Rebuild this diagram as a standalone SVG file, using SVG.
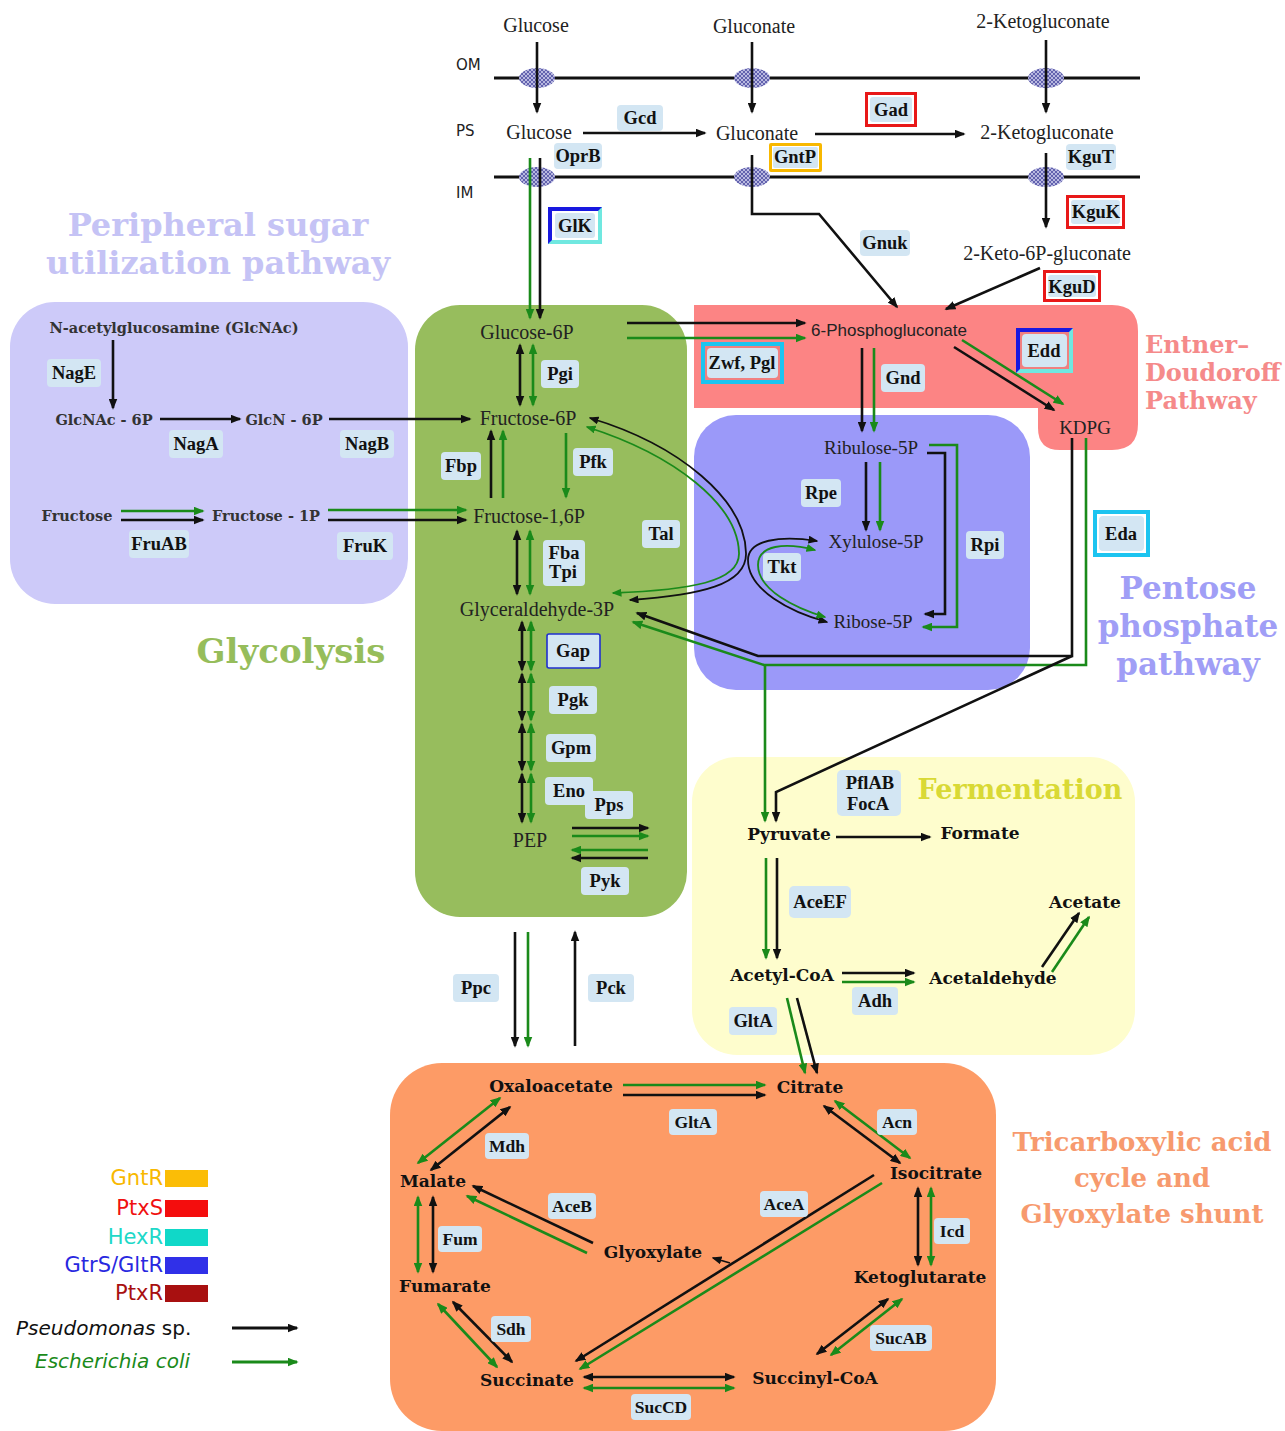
<svg xmlns="http://www.w3.org/2000/svg" width="1285" height="1431" viewBox="0 0 1285 1431">
<style>
.m{font-family:"Liberation Serif",serif;font-size:20px;fill:#222;text-anchor:middle;dominant-baseline:central}
.ms{font-family:"Liberation Serif",serif;font-size:19px;fill:#222;text-anchor:middle;dominant-baseline:central}
.mb{font-family:"DejaVu Serif",serif;font-weight:bold;font-size:17px;fill:#111;text-anchor:middle;dominant-baseline:central}
.pb{font-family:"DejaVu Serif",serif;font-weight:bold;font-size:14.5px;fill:#333;text-anchor:middle;dominant-baseline:central}
.e{font-family:"Liberation Serif",serif;font-weight:bold;font-size:18.5px;fill:#111;text-anchor:middle;dominant-baseline:central}
.et{font-family:"Liberation Serif",serif;font-weight:bold;font-size:17.5px;fill:#111;text-anchor:middle;dominant-baseline:central}
.eb{fill:#d3e6f3}
.lab{font-family:"DejaVu Sans",sans-serif;font-size:15px;fill:#222;dominant-baseline:central}
.t{font-family:"DejaVu Serif",serif;font-weight:bold;text-anchor:middle}
.k{stroke:#111;stroke-width:2.6;fill:none}
.g{stroke:#1a8a1a;stroke-width:2.6;fill:none}
.kt{stroke:#111;stroke-width:1.8;fill:none}
.gt{stroke:#1a8a1a;stroke-width:1.8;fill:none}
.ka{marker-end:url(#ak)}
.kd{marker-end:url(#ak);marker-start:url(#ak)}
.ga{marker-end:url(#ag)}
.gd{marker-end:url(#ag);marker-start:url(#ag)}
.kts{marker-end:url(#sk);marker-start:url(#sk)}
.gts{marker-end:url(#sg);marker-start:url(#sg)}
.leg{font-family:"DejaVu Sans",sans-serif;font-size:21px;text-anchor:end;dominant-baseline:central}
</style>
<defs>
<marker id="ak" viewBox="0 0 10 8" refX="8.5" refY="4" markerWidth="11" markerHeight="9" markerUnits="userSpaceOnUse" orient="auto-start-reverse"><path d="M0,0 L10,4 L0,8 z" fill="#111"/></marker>
<marker id="ag" viewBox="0 0 10 8" refX="8.5" refY="4" markerWidth="11" markerHeight="9" markerUnits="userSpaceOnUse" orient="auto-start-reverse"><path d="M0,0 L10,4 L0,8 z" fill="#1a8a1a"/></marker>
<marker id="sk" viewBox="0 0 10 8" refX="8.5" refY="4" markerWidth="10" markerHeight="8" markerUnits="userSpaceOnUse" orient="auto-start-reverse"><path d="M0,0 L10,4 L0,8 z" fill="#111"/></marker>
<marker id="sg" viewBox="0 0 10 8" refX="8.5" refY="4" markerWidth="10" markerHeight="8" markerUnits="userSpaceOnUse" orient="auto-start-reverse"><path d="M0,0 L10,4 L0,8 z" fill="#1a8a1a"/></marker>
<pattern id="hatch" width="4" height="4" patternUnits="userSpaceOnUse"><rect width="4" height="4" fill="#b8b8e0"/><path d="M0,0 L4,4 M4,0 L0,4" stroke="#5858a8" stroke-width="0.9"/></pattern>
</defs>
<rect width="1285" height="1431" fill="#fff"/>

<g id="regions">
<rect x="10" y="302" width="398" height="302" rx="45" fill="#cdcaf9"/>
<rect x="415" y="305" width="272" height="612" rx="45" fill="#97bd5d"/>
<path d="M694 305 H1112 Q1138 305 1138 331 V424 Q1138 450 1112 450 H1060 Q1038 450 1038 428 V408 H694 Z" fill="#fc8484"/>
<rect x="694" y="415" width="336" height="275" rx="42" fill="#9b99f9"/>
<rect x="692" y="757" width="443" height="298" rx="45" fill="#fefdcd"/>
<rect x="390" y="1063" width="606" height="368" rx="52" fill="#fd9b66"/>
</g>

<g id="titles">
<text class="t" x="218" y="236" font-size="32" fill="#c5c3f5">Peripheral sugar</text>
<text class="t" x="218" y="274" font-size="32" fill="#c5c3f5">utilization pathway</text>
<text class="t" x="291" y="663" font-size="34" fill="#96bd5b">Glycolysis</text>
<text class="t" x="1145" y="353" font-size="24" fill="#f58a8a" style="text-anchor:start">Entner–</text>
<text class="t" x="1145" y="381" font-size="24" fill="#f58a8a" style="text-anchor:start">Doudoroff</text>
<text class="t" x="1145" y="409" font-size="24" fill="#f58a8a" style="text-anchor:start">Pathway</text>
<text class="t" x="1188" y="599" font-size="31" fill="#a09ef6">Pentose</text>
<text class="t" x="1188" y="637" font-size="31" fill="#a09ef6">phosphate</text>
<text class="t" x="1188" y="675" font-size="31" fill="#a09ef6">pathway</text>
<text class="t" x="1020" y="799" font-size="27" fill="#d9d935">Fermentation</text>
<text class="t" x="1142" y="1151" font-size="26" fill="#f79a6e">Tricarboxylic acid</text>
<text class="t" x="1142" y="1187" font-size="26" fill="#f79a6e">cycle and</text>
<text class="t" x="1142" y="1223" font-size="26" fill="#f79a6e">Glyoxylate shunt</text>
</g>

<g id="membranes">
<line x1="494" y1="78" x2="1140" y2="78" stroke="#111" stroke-width="3"/>
<line x1="494" y1="177" x2="1140" y2="177" stroke="#111" stroke-width="3"/>
<ellipse cx="537" cy="78" rx="18" ry="10" fill="url(#hatch)"/>
<ellipse cx="752" cy="78" rx="18" ry="10" fill="url(#hatch)"/>
<ellipse cx="1046" cy="78" rx="18" ry="10" fill="url(#hatch)"/>
<ellipse cx="537" cy="177" rx="18" ry="10" fill="url(#hatch)"/>
<ellipse cx="752" cy="177" rx="18" ry="10" fill="url(#hatch)"/>
<ellipse cx="1046" cy="177" rx="18" ry="10" fill="url(#hatch)"/>
<text class="lab" x="456" y="65">OM</text>
<text class="lab" x="456" y="131">PS</text>
<text class="lab" x="456" y="193">IM</text>
</g>

<g id="connectors">
<line class="k ka" x1="537" y1="42" x2="537" y2="112"/>
<line class="k ka" x1="752" y1="42" x2="752" y2="112"/>
<line class="k ka" x1="1046" y1="40" x2="1046" y2="112"/>
<line class="k ka" x1="583" y1="133" x2="705" y2="133"/>
<line class="k ka" x1="815" y1="134" x2="964" y2="134"/>
<line class="g ga" x1="530" y1="158" x2="530" y2="318"/>
<line class="k ka" x1="540" y1="158" x2="540" y2="318"/>
<polyline class="k ka" points="752,155 752,214 819,214 897,307"/>
<line class="k ka" x1="1046" y1="153" x2="1046" y2="227"/>
<line class="k ka" x1="1040" y1="268" x2="946" y2="309"/>
<line class="k ka" x1="113" y1="340" x2="113" y2="408"/>
<line class="k ka" x1="160" y1="419" x2="240" y2="419"/>
<line class="k ka" x1="329" y1="419" x2="470" y2="419"/>
<line class="g ga" x1="121" y1="511" x2="203" y2="511"/>
<line class="k ka" x1="121" y1="520" x2="203" y2="520"/>
<line class="g ga" x1="328" y1="510" x2="466" y2="510"/>
<line class="k ka" x1="328" y1="520" x2="466" y2="520"/>
<line class="k ka" x1="627" y1="323" x2="805" y2="323"/>
<line class="g ga" x1="627" y1="338" x2="805" y2="338"/>
<line class="k kd" x1="520" y1="345" x2="520" y2="405"/>
<line class="g gd" x1="533" y1="345" x2="533" y2="405"/>
<line class="k ka" x1="491" y1="498" x2="491" y2="431"/>
<line class="g ga" x1="503" y1="498" x2="503" y2="431"/>
<line class="g ga" x1="566" y1="433" x2="566" y2="497"/>
<line class="k kd" x1="517" y1="531" x2="517" y2="594"/>
<line class="g gd" x1="530" y1="531" x2="530" y2="594"/>
<line class="k kd" x1="522" y1="622" x2="522" y2="670"/>
<line class="g gd" x1="531" y1="622" x2="531" y2="670"/>
<line class="k kd" x1="522" y1="674" x2="522" y2="720"/>
<line class="g gd" x1="531" y1="674" x2="531" y2="720"/>
<line class="k kd" x1="522" y1="724" x2="522" y2="770"/>
<line class="g gd" x1="531" y1="724" x2="531" y2="770"/>
<line class="k kd" x1="522" y1="774" x2="522" y2="822"/>
<line class="g gd" x1="531" y1="774" x2="531" y2="822"/>
<line class="k ka" x1="572" y1="828" x2="648" y2="828"/>
<line class="g ga" x1="572" y1="836" x2="648" y2="836"/>
<line class="g ga" x1="648" y1="850" x2="572" y2="850"/>
<line class="k ka" x1="648" y1="858" x2="572" y2="858"/>
<path class="kt kts" d="M590,418 C680,445 745,500 746,553 C747,585 700,595 630,600"/>
<path class="gt gts" d="M587,427 C675,455 738,505 739,553 C740,582 690,590 613,593"/>
<path class="kt kts" d="M817,541 C780,535 748,540 748,560 C748,590 790,612 827,622"/>
<path class="gt gts" d="M815,550 C785,542 758,545 758,565 C758,590 795,608 825,617"/>
<line class="k ka" x1="954" y1="347" x2="1054" y2="410"/>
<line class="g ga" x1="962" y1="340" x2="1063" y2="404"/>
<line class="k ka" x1="862" y1="348" x2="862" y2="431"/>
<line class="g ga" x1="874" y1="348" x2="874" y2="431"/>
<line class="k ka" x1="866" y1="462" x2="866" y2="530"/>
<line class="g ga" x1="880" y1="462" x2="880" y2="530"/>
<polyline class="k ka" points="927,453 945,453 945,614 925,614"/>
<polyline class="g ga" points="929,445 957,445 957,627 923,627"/>
<polyline class="k ka" points="1072,438 1072,656 758,656 637,613"/>
<polyline class="g ga" points="1086,438 1086,665 764,665 633,622"/>
<line class="g ga" x1="765" y1="665" x2="765" y2="821"/>
<polyline class="k ka" points="1072,656 776,792 776,821"/>
<line class="k ka" x1="836" y1="837" x2="930" y2="837"/>
<line class="g ga" x1="766" y1="858" x2="766" y2="958"/>
<line class="k ka" x1="777" y1="858" x2="777" y2="958"/>
<line class="k ka" x1="842" y1="973" x2="914" y2="973"/>
<line class="g ga" x1="842" y1="982" x2="914" y2="982"/>
<line class="k ka" x1="1042" y1="967" x2="1079" y2="913"/>
<line class="g ga" x1="1052" y1="972" x2="1089" y2="917"/>
<line class="g ga" x1="787" y1="998" x2="805" y2="1073"/>
<line class="k ka" x1="797" y1="998" x2="817" y2="1073"/>
<line class="k ka" x1="515" y1="932" x2="515" y2="1046"/>
<line class="g ga" x1="528" y1="932" x2="528" y2="1046"/>
<line class="k ka" x1="575" y1="1046" x2="575" y2="932"/>
<line class="g ga" x1="623" y1="1085" x2="765" y2="1085"/>
<line class="k ka" x1="623" y1="1095" x2="765" y2="1095"/>
<line class="k kd" x1="824" y1="1106" x2="900" y2="1163"/>
<line class="g gd" x1="835" y1="1101" x2="910" y2="1158"/>
<line class="k kd" x1="918" y1="1188" x2="918" y2="1265"/>
<line class="g gd" x1="931" y1="1188" x2="931" y2="1265"/>
<line class="k kd" x1="888" y1="1299" x2="817" y2="1354"/>
<line class="g gd" x1="902" y1="1299" x2="831" y2="1355"/>
<line class="k kd" x1="584" y1="1377" x2="734" y2="1377"/>
<line class="g gd" x1="584" y1="1388" x2="734" y2="1388"/>
<line class="k kd" x1="453" y1="1302" x2="512" y2="1362"/>
<line class="g gd" x1="438" y1="1304" x2="497" y2="1367"/>
<line class="g gd" x1="418" y1="1197" x2="418" y2="1272"/>
<line class="k kd" x1="433" y1="1197" x2="433" y2="1272"/>
<line class="g gd" x1="500" y1="1098" x2="418" y2="1163"/>
<line class="k kd" x1="510" y1="1107" x2="431" y2="1170"/>
<line class="k ka" x1="593" y1="1243" x2="473" y2="1186"/>
<line class="g ga" x1="587" y1="1253" x2="467" y2="1196"/>
<line class="k ka" x1="874" y1="1175" x2="576" y2="1361"/>
<line class="g ga" x1="882" y1="1183" x2="580" y2="1369"/>
<line class="kt" x1="730" y1="1263" x2="713" y2="1258" style="marker-end:url(#sk)"/>
</g>

<g id="metabolites">
<g id="n-glucose-out"><text class="m" x="536" y="25">Glucose</text></g>
<g id="n-gluconate-out"><text class="m" x="754" y="26">Gluconate</text></g>
<g id="n-2kg-out"><text class="m" x="1043" y="21">2-Ketogluconate</text></g>
<g id="n-glucose-ps"><text class="m" x="539" y="132">Glucose</text></g>
<g id="n-gluconate-ps"><text class="m" x="757" y="133">Gluconate</text></g>
<g id="n-2kg-ps"><text class="m" x="1047" y="132">2-Ketogluconate</text></g>
<g id="n-2k6pg"><text class="m" x="1047" y="253">2-Keto-6P-gluconate</text></g>
<g id="n-glcnac"><text class="pb" x="174" y="327">N-acetylglucosamine (GlcNAc)</text></g>
<g id="n-glcnac6p"><text class="pb" x="104" y="419">GlcNAc - 6P</text></g>
<g id="n-glcn6p"><text class="pb" x="284" y="419">GlcN - 6P</text></g>
<g id="n-fructose"><text class="pb" x="77" y="515">Fructose</text></g>
<g id="n-fructose1p"><text class="pb" x="266" y="515">Fructose - 1P</text></g>
<g id="n-g6p"><text class="m" x="527" y="332">Glucose-6P</text></g>
<g id="n-f6p"><text class="m" x="528" y="418">Fructose-6P</text></g>
<g id="n-f16p"><text class="m" x="529" y="516">Fructose-1,6P</text></g>
<g id="n-g3p"><text class="m" x="537" y="609">Glyceraldehyde-3P</text></g>
<g id="n-pep"><text class="m" x="530" y="840">PEP</text></g>
<g id="n-6pg"><text x="889" y="330" style="font-family:'Liberation Sans',sans-serif;font-size:17px;fill:#222;text-anchor:middle;dominant-baseline:central">6-Phosphogluconate</text></g>
<g id="n-kdpg"><text class="ms" x="1085" y="427">KDPG</text></g>
<g id="n-ru5p"><text class="ms" x="871" y="447">Ribulose-5P</text></g>
<g id="n-xu5p"><text class="ms" x="876" y="541">Xylulose-5P</text></g>
<g id="n-r5p"><text class="ms" x="873" y="621">Ribose-5P</text></g>
<g id="n-pyruvate"><text class="mb" x="789" y="834">Pyruvate</text></g>
<g id="n-formate"><text class="mb" x="980" y="833">Formate</text></g>
<g id="n-acetylcoa"><text class="mb" x="782" y="975">Acetyl-CoA</text></g>
<g id="n-acetaldehyde"><text class="mb" x="993" y="978">Acetaldehyde</text></g>
<g id="n-acetate"><text class="mb" x="1085" y="902">Acetate</text></g>
<g id="n-oaa"><text class="mb" x="551" y="1086">Oxaloacetate</text></g>
<g id="n-citrate"><text class="mb" x="810" y="1087">Citrate</text></g>
<g id="n-isocitrate"><text class="mb" x="936" y="1173">Isocitrate</text></g>
<g id="n-akg"><text class="mb" x="920" y="1277">Ketoglutarate</text></g>
<g id="n-succoa"><text class="mb" x="815" y="1378">Succinyl-CoA</text></g>
<g id="n-succinate"><text class="mb" x="527" y="1380">Succinate</text></g>
<g id="n-fumarate"><text class="mb" x="445" y="1286">Fumarate</text></g>
<g id="n-malate"><text class="mb" x="433" y="1181">Malate</text></g>
<g id="n-glyoxylate"><text class="mb" x="653" y="1252">Glyoxylate</text></g>
</g>

<g id="enzymes">
<g id="e-gcd"><rect class="eb" x="617" y="105" width="46" height="26" rx="4"/><text class="e" x="640" y="118">Gcd</text></g>
<g id="e-oprb"><rect class="eb" x="554" y="143" width="48" height="26" rx="4"/><text class="e" x="578" y="156">OprB</text></g>
<g id="e-gad"><rect x="865" y="92" width="52" height="35" fill="#e81818"/><rect x="868" y="95" width="46" height="29" fill="#fff"/><rect class="eb" x="870" y="97" width="42" height="25" rx="3"/><text class="e" x="891" y="110">Gad</text></g>
<g id="e-gntp"><rect x="769" y="143" width="53" height="29" rx="2" fill="#f8b800"/><rect x="772" y="146" width="47" height="23" fill="#fff"/><rect class="eb" x="773" y="147" width="45" height="21" rx="2"/><text class="e" x="795" y="157">GntP</text></g>
<g id="e-kgut"><rect class="eb" x="1066" y="144" width="50" height="26" rx="4"/><text class="e" x="1091" y="157">KguT</text></g>
<g id="e-glk"><rect x="548" y="207" width="54" height="37" fill="#70e8e0"/><polygon points="548,207 602,207 598,211 552,211 552,240 548,244" fill="#1818e0"/><rect x="552" y="211" width="46" height="29" fill="#fff"/><rect class="eb" x="555" y="213" width="40" height="25" rx="3"/><text class="e" x="575" y="226">GlK</text></g>
<g id="e-gnuk"><rect class="eb" x="860" y="230" width="50" height="26" rx="4"/><text class="e" x="885" y="243">Gnuk</text></g>
<g id="e-kguk"><rect x="1066" y="195" width="59" height="34" fill="#e81818"/><rect x="1069" y="198" width="53" height="28" fill="#fff"/><rect class="eb" x="1071" y="200" width="49" height="24" rx="3"/><text class="e" x="1096" y="212">KguK</text></g>
<g id="e-kgud"><rect x="1043" y="270" width="58" height="32" fill="#e81818"/><rect x="1046" y="273" width="52" height="26" fill="#fff"/><rect class="eb" x="1048" y="275" width="48" height="22" rx="3"/><text class="e" x="1072" y="287">KguD</text></g>
<g id="e-zwf"><rect x="701" y="342" width="83" height="42" fill="#1cc4f0"/><rect x="705" y="346" width="75" height="34" fill="#f08080"/><rect class="eb" x="707" y="348" width="71" height="30" rx="4"/><text class="e" x="742" y="363">Zwf, Pgl</text></g>
<g id="e-edd"><rect x="1016" y="328" width="57" height="45" fill="#70e8e0"/><polygon points="1016,328 1073,328 1069,332 1020,332 1020,369 1016,373" fill="#1818e0"/><rect x="1020" y="332" width="49" height="37" fill="#f08080"/><rect class="eb" x="1022" y="334" width="45" height="33" rx="4"/><text class="e" x="1044" y="351">Edd</text></g>
<g id="e-gnd"><rect class="eb" x="881" y="364" width="44" height="28" rx="4"/><text class="e" x="903" y="378">Gnd</text></g>
<g id="e-pgi"><rect class="eb" x="541" y="360" width="38" height="28" rx="4"/><text class="e" x="560" y="374">Pgi</text></g>
<g id="e-fbp"><rect class="eb" x="441" y="452" width="40" height="28" rx="4"/><text class="e" x="461" y="466">Fbp</text></g>
<g id="e-pfk"><rect class="eb" x="573" y="448" width="40" height="28" rx="4"/><text class="e" x="593" y="462">Pfk</text></g>
<g id="e-fba"><rect class="eb" x="543" y="540" width="42" height="46" rx="4"/><text class="e" x="564" y="553">Fba</text><text class="e" x="563" y="572">Tpi</text></g>
<g id="e-tal"><rect class="eb" x="642" y="520" width="38" height="28" rx="4"/><text class="e" x="661" y="534">Tal</text></g>
<g id="e-rpe"><rect class="eb" x="801" y="479" width="40" height="28" rx="4"/><text class="e" x="821" y="493">Rpe</text></g>
<g id="e-tkt"><rect class="eb" x="763" y="553" width="38" height="28" rx="4"/><text class="e" x="782" y="567">Tkt</text></g>
<g id="e-rpi"><rect class="eb" x="966" y="531" width="38" height="28" rx="4"/><text class="e" x="985" y="545">Rpi</text></g>
<g id="e-eda"><rect x="1093" y="510" width="57" height="47" fill="#1cc4f0"/><rect x="1097" y="514" width="49" height="39" fill="#fff"/><rect class="eb" x="1099" y="516" width="45" height="35" rx="4"/><text class="e" x="1121" y="534">Eda</text></g>
<g id="e-gap"><rect x="547" y="634" width="53" height="34" rx="2" fill="#d3e6f3" stroke="#2030d0" stroke-width="1.6"/><text class="e" x="573" y="651">Gap</text></g>
<g id="e-pgk"><rect class="eb" x="549" y="686" width="48" height="28" rx="4"/><text class="e" x="573" y="700">Pgk</text></g>
<g id="e-gpm"><rect class="eb" x="546" y="734" width="50" height="28" rx="4"/><text class="e" x="571" y="748">Gpm</text></g>
<g id="e-eno"><rect class="eb" x="545" y="777" width="48" height="28" rx="4"/><text class="e" x="569" y="791">Eno</text></g>
<g id="e-pps"><rect class="eb" x="585" y="791" width="48" height="28" rx="4"/><text class="e" x="609" y="805">Pps</text></g>
<g id="e-pyk"><rect class="eb" x="581" y="867" width="48" height="28" rx="4"/><text class="e" x="605" y="881">Pyk</text></g>
<g id="e-nage"><rect class="eb" x="47" y="359" width="54" height="28" rx="4"/><text class="e" x="74" y="373">NagE</text></g>
<g id="e-naga"><rect class="eb" x="169" y="430" width="54" height="28" rx="4"/><text class="e" x="196" y="444">NagA</text></g>
<g id="e-nagb"><rect class="eb" x="340" y="430" width="54" height="28" rx="4"/><text class="e" x="367" y="444">NagB</text></g>
<g id="e-fruab"><rect class="eb" x="129" y="530" width="60" height="28" rx="4"/><text class="e" x="159" y="544">FruAB</text></g>
<g id="e-fruk"><rect class="eb" x="337" y="532" width="56" height="28" rx="4"/><text class="e" x="365" y="546">FruK</text></g>
<g id="e-pfl"><rect class="eb" x="837" y="770" width="64" height="46" rx="5"/><text class="e" x="870" y="783">PflAB</text><text class="e" x="868" y="804">FocA</text></g>
<g id="e-aceef"><rect class="eb" x="789" y="886" width="62" height="32" rx="5"/><text class="e" x="820" y="902">AceEF</text></g>
<g id="e-adh"><rect class="eb" x="852" y="987" width="46" height="28" rx="4"/><text class="e" x="875" y="1001">Adh</text></g>
<g id="e-glta1"><rect class="eb" x="729" y="1007" width="48" height="28" rx="4"/><text class="e" x="753" y="1021">GltA</text></g>
<g id="e-ppc"><rect class="eb" x="453" y="974" width="46" height="28" rx="4"/><text class="e" x="476" y="988">Ppc</text></g>
<g id="e-pck"><rect class="eb" x="588" y="974" width="46" height="28" rx="4"/><text class="e" x="611" y="988">Pck</text></g>
<g id="e-glta2"><rect class="eb" x="669" y="1109" width="48" height="26" rx="4"/><text class="et" x="693" y="1122">GltA</text></g>
<g id="e-acn"><rect class="eb" x="877" y="1109" width="40" height="26" rx="4"/><text class="et" x="897" y="1122">Acn</text></g>
<g id="e-mdh"><rect class="eb" x="485" y="1133" width="44" height="26" rx="4"/><text class="et" x="507" y="1146">Mdh</text></g>
<g id="e-aceb"><rect class="eb" x="548" y="1193" width="48" height="26" rx="4"/><text class="et" x="572" y="1206">AceB</text></g>
<g id="e-acea"><rect class="eb" x="760" y="1191" width="48" height="26" rx="4"/><text class="et" x="784" y="1204">AceA</text></g>
<g id="e-fum"><rect class="eb" x="438" y="1226" width="44" height="26" rx="4"/><text class="et" x="460" y="1239">Fum</text></g>
<g id="e-icd"><rect class="eb" x="934" y="1218" width="36" height="26" rx="4"/><text class="et" x="952" y="1231">Icd</text></g>
<g id="e-sdh"><rect class="eb" x="491" y="1316" width="40" height="26" rx="4"/><text class="et" x="511" y="1329">Sdh</text></g>
<g id="e-sucab"><rect class="eb" x="870" y="1325" width="62" height="26" rx="4"/><text class="et" x="901" y="1338">SucAB</text></g>
<g id="e-succd"><rect class="eb" x="631" y="1394" width="60" height="26" rx="4"/><text class="et" x="661" y="1407">SucCD</text></g>
</g>

<g id="legend">
<text class="leg" x="163" y="1178" fill="#f8b800">GntR</text><rect x="165" y="1170" width="43" height="17" fill="#fbbd06"/>
<text class="leg" x="163" y="1208" fill="#f01010">PtxS</text><rect x="165" y="1200" width="43" height="17" fill="#f40d0d"/>
<text class="leg" x="163" y="1237" fill="#20d8c8">HexR</text><rect x="165" y="1229" width="43" height="17" fill="#10d8c8"/>
<text class="leg" x="163" y="1265" fill="#2828e0">GtrS/GltR</text><rect x="165" y="1257" width="43" height="17" fill="#3030e8"/>
<text class="leg" x="163" y="1293" fill="#a81010">PtxR</text><rect x="165" y="1285" width="43" height="17" fill="#a81010"/>
<text x="16" y="1328" style="font-family:'DejaVu Sans',sans-serif;font-size:20px;fill:#111;dominant-baseline:central"><tspan font-style="italic">Pseudomonas</tspan> sp.</text>
<line class="k ka" x1="232" y1="1328" x2="297" y2="1328" style="stroke-width:3"/>
<text x="35" y="1361" style="font-family:'DejaVu Sans',sans-serif;font-size:20px;font-style:italic;fill:#1a8a1a;dominant-baseline:central">Escherichia coli</text>
<line class="g ga" x1="232" y1="1362" x2="297" y2="1362" style="stroke-width:3"/>
</g>
</svg>
